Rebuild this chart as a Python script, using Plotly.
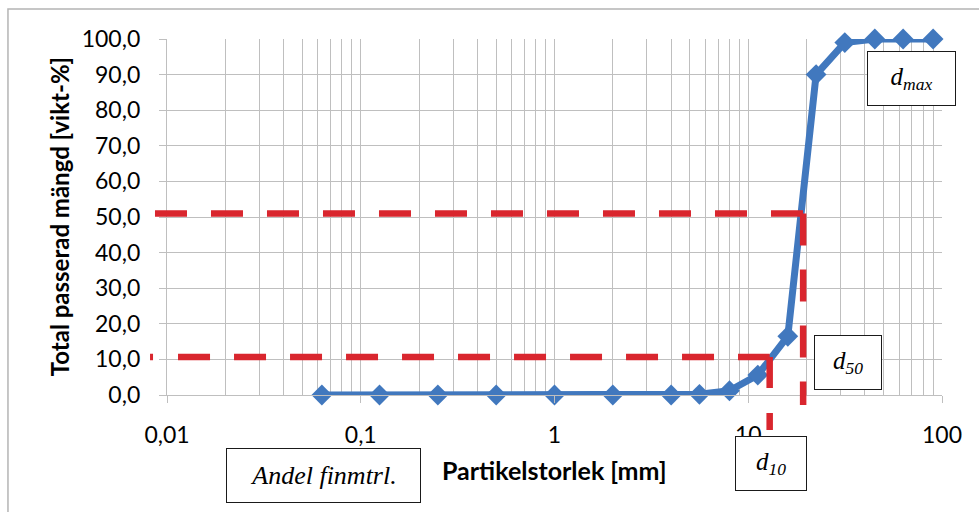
import math
import plotly.graph_objects as go

# Sieve analysis: sieve opening [mm] and cumulative passing [weight-%]
sieve_mm = [0.063, 0.125, 0.25, 0.5, 1, 2, 4, 5.6, 8, 11.2, 16, 22.4, 31.5, 45, 63, 90]
passing_pct = [0.0, 0.0, 0.0, 0.0, 0.0, 0.0, 0.0, 0.2, 1.2, 5.6, 16.5, 90.0, 99.0, 100.0, 100.0, 100.0]

# Axis ticks
x_tick_vals = [0.01, 0.1, 1, 10, 100]
x_tick_text = ["0,01", "0,1", "1", "10", "100"]
y_tick_vals = [0, 10, 20, 30, 40, 50, 60, 70, 80, 90, 100]
y_tick_text = ["0,0", "10,0", "20,0", "30,0", "40,0", "50,0", "60,0", "70,0", "80,0", "90,0", "100,0"]

# Characteristic grain sizes
d10_mm, d10_level = 12.9, 10.7
d50_mm, d50_level = 19.2, 51.0

X_LOG_MIN, X_LOG_MAX = -2.0, 2.0
Y_MIN, Y_MAX = 0.0, 100.0

BLUE = "#4178BE"
RED = "#D9262E"
GRID = "#BFBFBF"
LABEL_FONT = "Lato"
BOX_FONT = "Liberation Serif"


def xp(v):
    """Value on the log x axis -> paper fraction."""
    return (math.log10(v) - X_LOG_MIN) / (X_LOG_MAX - X_LOG_MIN)


def yp(v):
    """Value on the y axis -> paper fraction."""
    return (v - Y_MIN) / (Y_MAX - Y_MIN)


minor_vals = [m * 10 ** e for e in range(-2, 2) for m in range(2, 10)]

fig = go.Figure()
fig.add_trace(go.Scatter(
    x=sieve_mm, y=passing_pct, mode="lines+markers",
    line=dict(color=BLUE, width=7),
    marker=dict(symbol="diamond", size=16, color=BLUE),
    cliponaxis=False, showlegend=False, hoverinfo="x+y",
))

shapes = []
# d10 guide: horizontal at the 10 % level, then down through the x axis
shapes.append(dict(type="line", xref="paper", yref="paper",
                   x0=-0.0219, y0=yp(d10_level), x1=xp(d10_mm), y1=yp(d10_level),
                   line=dict(color=RED, width=6.5, dash="3px,25px," + "32px,24px," * 14 + "32px,24px")))
shapes.append(dict(type="line", xref="paper", yref="paper",
                   x0=xp(d10_mm), y0=yp(d10_level), x1=xp(d10_mm), y1=-0.098,
                   line=dict(color=RED, width=6.5, dash="31px,25px")))
# d50 guide
shapes.append(dict(type="line", xref="paper", yref="paper",
                   x0=-0.0155, y0=yp(d50_level), x1=xp(d50_mm), y1=yp(d50_level),
                   line=dict(color=RED, width=6.5, dash="32px,24px")))
shapes.append(dict(type="line", xref="paper", yref="paper",
                   x0=xp(d50_mm), y0=yp(d50_level), x1=xp(d50_mm), y1=-0.028,
                   line=dict(color=RED, width=6.5, dash="32px,24px")))
# chart-area frame
shapes.append(dict(type="rect", xref="paper", yref="paper",
                   x0=-0.2052, y0=1.0843, x1=1.07, y1=-0.36,
                   line=dict(color="#B4B4B4", width=1.5), fillcolor="rgba(0,0,0,0)", layer="below"))


def box(text, cx, cy, w, h, size=25):
    return dict(xref="paper", yref="paper", x=cx, y=cy, xanchor="center", yanchor="middle",
                text=text, showarrow=False, width=w, height=h, align="center", valign="middle",
                bgcolor="white", bordercolor="#1a1a1a", borderwidth=1, borderpad=0,
                font=dict(family=BOX_FONT, size=size, color="#000"))


annotations = [
    box("<i>Andel finmtrl.</i>", 0.2019, -0.2275, 193, 53, 26),
    box("<i>d<sub>10</sub></i>", 0.7794, -0.1938, 70, 53),
    box("<i>d<sub>50</sub></i>", 0.8787, 0.0913, 66, 53),
    box("<i>d<sub>max</sub></i>", 0.9606, 0.8890, 87, 53),
    dict(xref="paper", yref="paper", x=0.5006, y=-0.2107, xanchor="center", yanchor="middle",
         text="<b>Partikelstorlek [mm]</b>", showarrow=False,
         font=dict(family=LABEL_FONT, size=25, color="#000")),
    dict(xref="paper", yref="paper", x=-0.139, y=0.50, xanchor="center", yanchor="middle",
         text="<b>Total passerad mängd [vikt-%]</b>", showarrow=False, textangle=-90,
         font=dict(family=LABEL_FONT, size=24, color="#000")),
]

fig.update_layout(
    width=979, height=512,
    margin=dict(l=167, r=37, t=39, b=117),
    paper_bgcolor="white", plot_bgcolor="white",
    shapes=shapes, annotations=annotations,
    font=dict(family=LABEL_FONT, size=23, color="#000"),
    xaxis=dict(
        type="log", range=[X_LOG_MIN, X_LOG_MAX],
        tickvals=x_tick_vals, ticktext=x_tick_text,
        showgrid=True, gridcolor=GRID, gridwidth=1.3,
        minor=dict(tickvals=minor_vals, showgrid=True, gridcolor=GRID, gridwidth=1.3, ticks=""),
        showline=True, linecolor=GRID, linewidth=1.3,
        ticks="outside", ticklen=7, tickcolor=GRID, tickwidth=1.3,
        ticklabelstandoff=12, zeroline=False,
    ),
    yaxis=dict(
        range=[Y_MIN, Y_MAX], tickvals=y_tick_vals, ticktext=y_tick_text,
        showgrid=True, gridcolor=GRID, gridwidth=1.3,
        showline=True, linecolor=GRID, linewidth=1.3,
        ticks="outside", ticklen=7, tickcolor=GRID, tickwidth=1.3,
        ticklabelstandoff=14, zeroline=False,
    ),
)

fig.write_html("out.html")
